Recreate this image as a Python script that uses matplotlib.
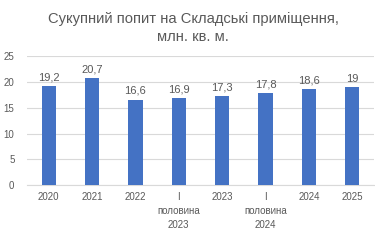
import numpy as np
import matplotlib.pyplot as plt

categories = ["2020", "2021", "2022", "I\nполовина\n2023", "2023", "I\nполовина\n2024", "2024", "2025"]
values = [19.2, 20.7, 16.6, 16.9, 17.3, 17.8, 18.6, 19]
labels = ["19,2", "20,7", "16,6", "16,9", "17,3", "17,8", "18,6", "19"]

plt.rcParams["font.family"] = ["Liberation Sans", "DejaVu Sans"]
gray = "#595959"

fig = plt.figure(figsize=(3.75, 2.45), dpi=100)
ax = fig.add_axes([0.072, 0.245, 0.925, 0.525])

x = np.arange(len(categories))
ax.bar(x, values, width=0.33, color="#4472C4", zorder=3)
for xi, v, lab in zip(x, values, labels):
    ax.text(xi, v + 0.7, lab, ha="center", va="bottom", fontsize=8, color=gray)

ax.set_ylim(0, 25)
ax.set_yticks([0, 5, 10, 15, 20, 25])
ax.set_xlim(-0.5, len(categories) - 0.5)
ax.set_xticks(x)
ax.set_xticklabels(categories, fontsize=7, color=gray, linespacing=1.5, va="top")
ax.tick_params(axis="y", labelsize=7, labelcolor=gray, length=0, pad=9)
ax.tick_params(axis="x", length=0, pad=5)
ax.grid(axis="y", color="#d9d9d9", linewidth=0.8, zorder=0)
for s in ["top", "right", "left"]:
    ax.spines[s].set_visible(False)
ax.spines["bottom"].set_color("#d9d9d9")

fig.suptitle("Сукупний попит на Складські приміщення,\nмлн. кв. м.", fontsize=10.6,
             color=gray, x=0.515, y=0.95, linespacing=1.3)

fig.savefig("out.png", dpi=100)
